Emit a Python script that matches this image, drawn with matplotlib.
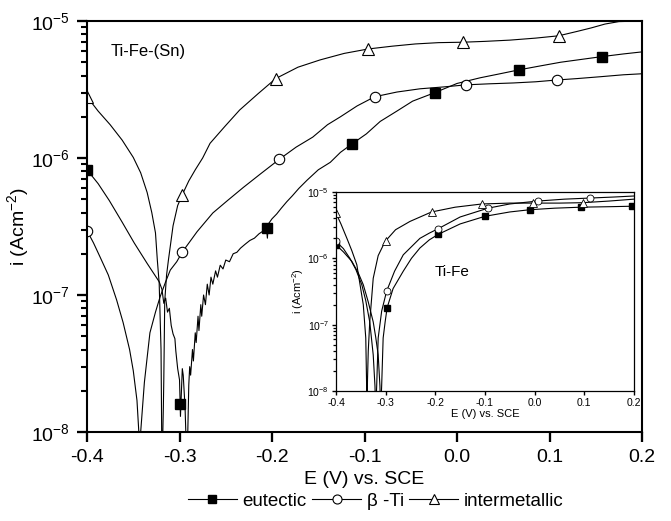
import matplotlib
matplotlib.use('Agg')
import matplotlib.pyplot as plt
from matplotlib.lines import Line2D
from matplotlib.ticker import FixedLocator, LogLocator, NullFormatter

plt.rcParams['font.family'] = ['Liberation Sans', 'DejaVu Sans']
plt.rcParams['mathtext.fontset'] = 'custom'
plt.rcParams['mathtext.rm'] = 'Liberation Sans'
plt.rcParams['mathtext.it'] = 'Liberation Sans:italic'
plt.rcParams['axes.unicode_minus'] = False

# ---- main plot: Ti-Fe-(Sn) ----
eut_E = [-0.400, -0.388, -0.376, -0.362, -0.349, -0.335, -0.322, -0.319, -0.317, -0.315,
         -0.313, -0.311, -0.309, -0.307, -0.305, -0.304, -0.302, -0.300, -0.299, -0.297,
         -0.296, -0.294, -0.293, -0.292, -0.290, -0.289, -0.288, -0.286, -0.285, -0.283,
         -0.282, -0.280, -0.279, -0.277, -0.276, -0.274, -0.272, -0.270, -0.268, -0.266,
         -0.264, -0.261, -0.259, -0.256, -0.253, -0.250, -0.246, -0.242, -0.238, -0.234,
         -0.229, -0.224, -0.219, -0.214, -0.209, -0.206, -0.205, -0.204, -0.200, -0.195,
         -0.190, -0.184, -0.178, -0.171, -0.162, -0.150, -0.137, -0.126, -0.114, -0.098,
         -0.083, -0.065, -0.048, -0.024, 0.000, 0.025, 0.045, 0.067, 0.090, 0.112,
         0.135, 0.157, 0.180, 0.200]
eut_i = [8.2e-7, 6.5e-7, 4.9e-7, 3.4e-7, 2.4e-7, 1.7e-7, 1.25e-7, 1.1e-7, 8.7e-8, 9.5e-8,
         7.5e-8, 8.0e-8, 6.0e-8, 5.2e-8, 4.8e-8, 3.9e-8, 2.9e-8, 2.4e-8, 1.3e-8, 2.9e-8,
         2.6e-8, 1.5e-8, 9.0e-9, 5.0e-9, 2.2e-8, 3.0e-8, 2.6e-8, 4.0e-8, 3.3e-8, 5.3e-8,
         4.5e-8, 7.0e-8, 5.5e-8, 8.5e-8, 7.0e-8, 1.0e-7, 8.5e-8, 1.2e-7, 1.0e-7, 1.35e-7,
         1.2e-7, 1.5e-7, 1.35e-7, 1.65e-7, 1.55e-7, 1.8e-7, 1.75e-7, 2.0e-7, 2.05e-7, 2.2e-7,
         2.35e-7, 2.5e-7, 2.6e-7, 2.8e-7, 2.95e-7, 3.05e-7, 2.6e-7, 3.3e-7, 3.6e-7, 3.9e-7,
         4.3e-7, 4.8e-7, 5.3e-7, 6.0e-7, 6.9e-7, 8.2e-7, 9.3e-7, 1.1e-6, 1.26e-6, 1.5e-6,
         1.85e-6, 2.2e-6, 2.6e-6, 3.0e-6, 3.5e-6, 3.85e-6, 4.1e-6, 4.4e-6, 4.7e-6, 5.0e-6,
         5.25e-6, 5.5e-6, 5.75e-6, 5.95e-6]
eut_mE = [-0.400, -0.300, -0.205, -0.114, -0.024, 0.067, 0.157]
eut_mi = [8.2e-7, 1.6e-8, 3.1e-7, 1.26e-6, 3.0e-6, 4.4e-6, 5.5e-6]

bti_E = [-0.400, -0.393, -0.386, -0.377, -0.368, -0.361, -0.354, -0.350, -0.346, -0.344,
         -0.343, -0.342, -0.338, -0.335, -0.332, -0.326, -0.321, -0.315, -0.310, -0.303,
         -0.297, -0.281, -0.264, -0.248, -0.231, -0.212, -0.192, -0.174, -0.156, -0.140,
         -0.126, -0.108, -0.089, -0.065, -0.040, -0.015, 0.010, 0.035, 0.061, 0.085,
         0.108, 0.130, 0.155, 0.180, 0.200]
bti_i = [2.95e-7, 2.4e-7, 1.9e-7, 1.4e-7, 9.2e-8, 6.3e-8, 4.0e-8, 2.8e-8, 1.7e-8, 1.0e-8,
         5.0e-9, 1.0e-8, 2.3e-8, 3.5e-8, 5.3e-8, 7.5e-8, 9.7e-8, 1.25e-7, 1.52e-7, 1.75e-7,
         2.06e-7, 2.9e-7, 3.97e-7, 4.9e-7, 6.1e-7, 7.7e-7, 9.8e-7, 1.2e-6, 1.42e-6, 1.75e-6,
         2.0e-6, 2.4e-6, 2.8e-6, 3.03e-6, 3.2e-6, 3.3e-6, 3.42e-6, 3.48e-6, 3.53e-6, 3.6e-6,
         3.71e-6, 3.8e-6, 3.92e-6, 4.05e-6, 4.12e-6]
bti_mE = [-0.400, -0.297, -0.192, -0.089, 0.010, 0.108]
bti_mi = [2.95e-7, 2.06e-7, 9.8e-7, 2.8e-6, 3.42e-6, 3.71e-6]

int_E = [-0.400, -0.388, -0.375, -0.362, -0.350, -0.342, -0.335, -0.330, -0.326, -0.324,
         -0.322, -0.321, -0.320, -0.3195, -0.319, -0.3175, -0.317, -0.316, -0.314, -0.312,
         -0.307, -0.302, -0.297, -0.290, -0.283, -0.275, -0.267, -0.251, -0.235, -0.215,
         -0.196, -0.172, -0.148, -0.122, -0.096, -0.070, -0.045, -0.020, 0.006, 0.030,
         0.057, 0.085, 0.110, 0.130, 0.145, 0.160, 0.175, 0.200]
int_i = [2.8e-6, 2.2e-6, 1.75e-6, 1.35e-6, 1.01e-6, 7.8e-7, 5.6e-7, 4.0e-7, 2.84e-7, 1.8e-7,
         1.22e-7, 7.0e-8, 4.0e-8, 1.5e-8, 5.0e-9, 1.5e-8, 2.4e-8, 9.0e-8, 1.4e-7, 1.8e-7,
         3.2e-7, 4.5e-7, 5.4e-7, 6.8e-7, 8.2e-7, 1.0e-6, 1.28e-6, 1.7e-6, 2.24e-6, 2.95e-6,
         3.8e-6, 4.6e-6, 5.2e-6, 5.8e-6, 6.25e-6, 6.55e-6, 6.8e-6, 6.95e-6, 7.0e-6, 7.1e-6,
         7.25e-6, 7.5e-6, 7.8e-6, 8.4e-6, 8.9e-6, 9.5e-6, 9.9e-6, 1.0e-5]
int_mE = [-0.400, -0.297, -0.196, -0.096, 0.006, 0.110]
int_mi = [2.8e-6, 5.4e-7, 3.8e-6, 6.25e-6, 7.0e-6, 7.8e-6]

# ---- inset: Ti-Fe ----
in_eut_E = [-0.400, -0.385, -0.368, -0.355, -0.345, -0.335, -0.325, -0.320, -0.315, -0.3115,
            -0.310, -0.308, -0.305, -0.301, -0.297, -0.285, -0.2645, -0.248, -0.231, -0.212,
            -0.194, -0.150, -0.100, -0.050, -0.010, 0.040, 0.093, 0.150, 0.196, 0.200]
in_eut_i = [1.6e-6, 1.25e-6, 9.0e-7, 6.0e-7, 4.0e-7, 2.2e-7, 1.1e-7, 6.5e-8, 3.5e-8, 1.2e-8,
            5.0e-9, 1.2e-8, 6.3e-8, 1.1e-7, 1.8e-7, 3.5e-7, 6.4e-7, 1.0e-6, 1.43e-6, 1.9e-6,
            2.3e-6, 3.3e-6, 4.3e-6, 5.0e-6, 5.4e-6, 5.7e-6, 5.9e-6, 6.0e-6, 6.1e-6, 6.1e-6]
in_eut_mE = [-0.400, -0.297, -0.194, -0.100, -0.010, 0.093, 0.196]
in_eut_mi = [1.6e-6, 1.8e-7, 2.3e-6, 4.3e-6, 5.4e-6, 5.9e-6, 6.1e-6]

in_bti_E = [-0.400, -0.385, -0.372, -0.360, -0.348, -0.340, -0.332, -0.325, -0.3215, -0.320,
            -0.318, -0.315, -0.308, -0.298, -0.282, -0.2645, -0.231, -0.212, -0.194, -0.150,
            -0.094, -0.050, 0.006, 0.060, 0.111, 0.160, 0.200]
in_bti_i = [1.8e-6, 1.4e-6, 1.0e-6, 6.8e-7, 4.0e-7, 2.3e-7, 1.1e-7, 3.5e-8, 1.2e-8, 5.0e-9,
            1.2e-8, 6.3e-8, 1.6e-7, 3.2e-7, 6.4e-7, 1.13e-6, 2.0e-6, 2.4e-6, 2.8e-6, 4.2e-6,
            5.7e-6, 6.6e-6, 7.3e-6, 7.8e-6, 8.1e-6, 8.4e-6, 8.7e-6]
in_bti_mE = [-0.400, -0.298, -0.194, -0.094, 0.006, 0.111]
in_bti_mi = [1.8e-6, 3.2e-7, 2.8e-6, 5.7e-6, 7.3e-6, 8.1e-6]

in_int_E = [-0.400, -0.390, -0.378, -0.368, -0.358, -0.345, -0.340, -0.3385, -0.3375, -0.3365,
            -0.335, -0.332, -0.325, -0.315, -0.301, -0.280, -0.251, -0.2075, -0.160, -0.106,
            -0.050, -0.003, 0.050, 0.097, 0.150, 0.200]
in_int_i = [4.8e-6, 3.3e-6, 2.0e-6, 1.3e-6, 8.0e-7, 2.0e-7, 6.3e-8, 1.5e-8, 5.0e-9, 1.5e-8,
            4.0e-8, 1.1e-7, 5.0e-7, 1.1e-6, 1.8e-6, 2.7e-6, 3.6e-6, 5.0e-6, 5.9e-6, 6.6e-6,
            6.8e-6, 6.8e-6, 6.8e-6, 6.9e-6, 7.3e-6, 7.8e-6]
in_int_mE = [-0.400, -0.300, -0.2075, -0.106, -0.003, 0.097]
in_int_mi = [4.8e-6, 1.8e-6, 5.0e-6, 6.6e-6, 6.8e-6, 6.9e-6]

xticks = [-0.4, -0.3, -0.2, -0.1, 0.0, 0.1, 0.2]
xlabels = ['-0.4', '-0.3', '-0.2', '-0.1', '0.0', '0.1', '0.2']
yticks = [1e-8, 1e-7, 1e-6, 1e-5]
ylabels = [r'10$^{-8}$', r'10$^{-7}$', r'10$^{-6}$', r'10$^{-5}$']


def style_axes(a, fs, major, minor, spine_w):
    a.set_yscale('log')
    a.set_xlim(-0.4, 0.2)
    a.set_ylim(1e-8, 1e-5)
    a.set_xticks(xticks)
    a.set_xticklabels(xlabels)
    a.yaxis.set_major_locator(FixedLocator(yticks))
    a.set_yticklabels(ylabels)
    a.yaxis.set_minor_locator(LogLocator(base=10, subs=range(2, 10), numticks=20))
    a.yaxis.set_minor_formatter(NullFormatter())
    a.tick_params(which='major', length=major, width=spine_w * 1.1, labelsize=fs, direction='out')
    a.tick_params(which='minor', length=minor, width=spine_w, direction='out')
    a.tick_params(axis='x', which='minor', length=0)
    for s in a.spines.values():
        s.set_linewidth(spine_w)


fig = plt.figure(figsize=(6.71, 5.21), dpi=100)
ax = fig.add_axes([0.1297, 0.1708, 0.8271, 0.7889])

lw = 0.8
ax.plot(eut_E, eut_i, color='black', lw=lw)
ax.plot(bti_E, bti_i, color='black', lw=lw)
ax.plot(int_E, int_i, color='black', lw=lw)
ax.plot(eut_mE, eut_mi, ls='none', marker='s', ms=6.5, mfc='black', mec='black')
ax.plot(bti_mE, bti_mi, ls='none', marker='o', ms=7.5, mfc='white', mec='black', mew=0.8)
ax.plot(int_mE, int_mi, ls='none', marker='^', ms=8.5, mfc='white', mec='black', mew=0.8)
style_axes(ax, 14, 7.5, 4, 1.5)
ax.tick_params(axis='both', pad=5)
ax.set_xlabel('E (V) vs. SCE', fontsize=14, labelpad=3)
ax.set_ylabel(r'i (Acm$^{-2}$)', fontsize=14, labelpad=0)
ax.text(0.042, 0.925, 'Ti-Fe-(Sn)', transform=ax.transAxes, fontsize=12, va='center')

handles = [
    Line2D([], [], color='black', lw=lw, marker='s', ms=6, mfc='black', mec='black'),
    Line2D([], [], color='black', lw=lw, marker='o', ms=6.5, mfc='white', mec='black', mew=0.8),
    Line2D([], [], color='black', lw=lw, marker='^', ms=7, mfc='white', mec='black', mew=0.8),
]
fig.legend(handles, ['eutectic', r'β -Ti', 'intermetallic'], loc='center',
           bbox_to_anchor=(0.56, 0.038), ncol=3, frameon=False, fontsize=13.5,
           handlelength=2.6, handletextpad=0.3, columnspacing=0.3, borderpad=0)

# inset
ins = fig.add_axes([0.5007, 0.2495, 0.4441, 0.382])
ins.set_facecolor('white')
ins.plot(in_eut_E, in_eut_i, color='black', lw=lw)
ins.plot(in_bti_E, in_bti_i, color='black', lw=lw)
ins.plot(in_int_E, in_int_i, color='black', lw=lw)
ins.plot(in_eut_mE, in_eut_mi, ls='none', marker='s', ms=4.5, mfc='black', mec='black')
ins.plot(in_bti_mE, in_bti_mi, ls='none', marker='o', ms=5, mfc='white', mec='black', mew=0.6)
ins.plot(in_int_mE, in_int_mi, ls='none', marker='^', ms=5.5, mfc='white', mec='black', mew=0.6)
style_axes(ins, 7.5, 3, 2, 0.9)
ins.tick_params(axis='both', pad=2)
ins.set_xlabel('E (V) vs. SCE', fontsize=8, labelpad=1)
ins.set_ylabel(r'i (Acm$^{-2}$)', fontsize=8, labelpad=1)
ins.text(0.332, 0.6, 'Ti-Fe', transform=ins.transAxes, fontsize=11, va='center')

fig.savefig('out.png', dpi=100)
